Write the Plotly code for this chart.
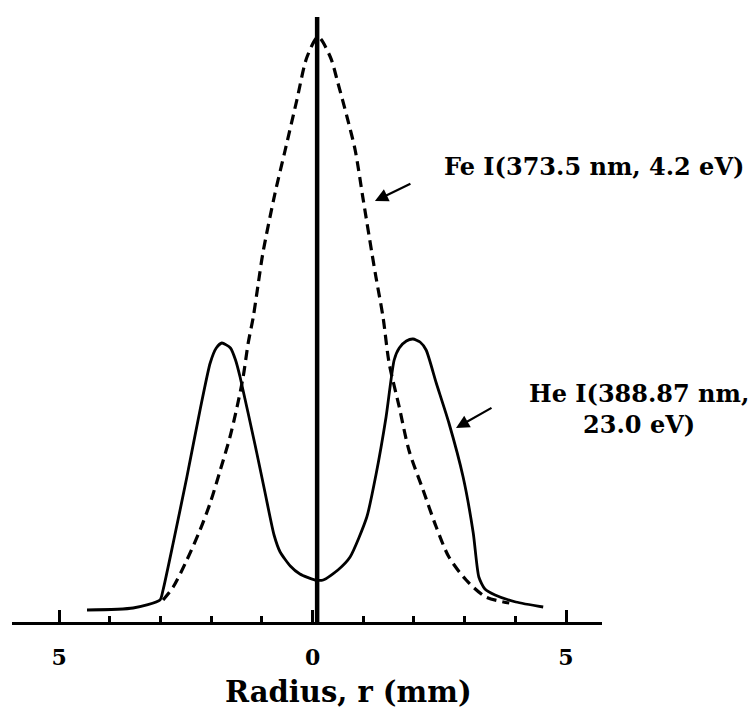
import plotly.graph_objects as go

# ---- data (radius in mm, intensity in arbitrary units) ----
he_r = [-4.45, -3.54, -3.01, -2.95, -2.75, -2.48, -2.22, -2.02, -1.90, -1.79, -1.62, -1.52,
        -1.43, -1.13, -0.94, -0.76, -0.64, -0.44, -0.25, 0.05, 0.21, 0.50, 0.74, 1.07, 1.25,
        1.45, 1.61, 1.71, 1.85, 1.98, 2.12, 2.24, 2.44, 2.69, 2.97, 3.17, 3.28, 3.40, 3.60,
        4.01, 4.55]
he_i = [12, 14, 22, 32, 79, 145, 212, 259, 274, 279, 274, 262,
        245, 176, 130, 87, 70, 56, 48, 42, 42, 52, 65, 105, 147,
        205, 262, 274, 281, 283, 280, 272, 239, 199, 145, 89, 45, 33, 27,
        20, 15]

fe_r = [-2.95, -2.75, -2.48, -2.22, -2.02, -1.82, -1.63, -1.49, -1.37, -1.27, -1.17, -1.07,
        -0.98, -0.74, -0.54, -0.31, -0.11, 0.11, 0.35, 0.50, 0.68, 0.84, 1.00, 1.17, 1.25,
        1.39, 1.51, 1.71, 1.90, 2.18, 2.44, 2.69, 3.03, 3.42, 3.88]
fe_i = [22, 35, 62, 92, 119, 152, 185, 215, 245, 279, 305, 339,
        369, 429, 472, 522, 565, 585, 565, 539, 505, 472, 422, 369, 345,
        305, 259, 215, 172, 132, 95, 65, 42, 25, 19]

center_r = [0.09, 0.09]
center_i = [0, 605]

tick_vals = [-5, 0, 5]
tick_text = ["5", "0", "5"]
minor_vals = [-4, -3, -2, -1, 1, 2, 3, 4]

fe_label = "Fe I(373.5 nm, 4.2 eV)"
he_label = "He I(388.87 nm,<br>23.0 eV)"
x_title = "Radius, r (mm)"

FONT = "DejaVu Serif"

fig = go.Figure()
fig.add_trace(go.Scatter(x=center_r, y=center_i, mode="lines",
                         line=dict(color="black", width=4.5), hoverinfo="skip"))
fig.add_trace(go.Scatter(x=fe_r, y=fe_i, mode="lines",
                         line=dict(color="black", width=3.2, dash="10px,6px",
                                   shape="spline", smoothing=0.8)))
fig.add_trace(go.Scatter(x=he_r, y=he_i, mode="lines",
                         line=dict(color="black", width=2.8, shape="spline", smoothing=0.6)))

# labels with arrows
fig.add_annotation(x=0.987, y=0.7435, xref="paper", yref="paper", text=fe_label, showarrow=False,
                   font=dict(family=FONT, size=24, color="black", weight="bold"),
                   xanchor="center", yanchor="middle")
fig.add_annotation(x=1.23, y=421, ax=1.96, ay=439, xref="x", yref="y", axref="x", ayref="y",
                   text="", showarrow=True, arrowhead=2, arrowsize=1.2, arrowwidth=2.2,
                   arrowcolor="black")
fig.add_annotation(x=1.063, y=0.348, xref="paper", yref="paper", text=he_label, showarrow=False,
                   font=dict(family=FONT, size=24, color="black", weight="bold"),
                   xanchor="center", yanchor="middle", align="center")
fig.add_annotation(x=2.83, y=194, ax=3.56, ay=215, xref="x", yref="y", axref="x", ayref="y",
                   text="", showarrow=True, arrowhead=2, arrowsize=1.2, arrowwidth=2.2,
                   arrowcolor="black")
fig.add_annotation(x=0.7, y=-0.114, xref="x", yref="paper", text=x_title, showarrow=False,
                   font=dict(family=FONT, size=29, color="black", weight="bold"),
                   xanchor="center", yanchor="middle")

fig.update_layout(
    width=753, height=715,
    margin=dict(l=12, r=151, t=10, b=93),
    paper_bgcolor="white", plot_bgcolor="white",
    showlegend=False,
    xaxis=dict(range=[-5.93, 5.71], showgrid=False, zeroline=False,
               showline=True, linewidth=3, linecolor="black",
               tickmode="array", tickvals=tick_vals, ticktext=tick_text,
               ticks="inside", ticklen=12, tickwidth=3, tickcolor="black",
               ticklabelstandoff=14,
               tickfont=dict(family=FONT, size=22, color="black", weight="bold"),
               minor=dict(tickmode="array", tickvals=minor_vals, ticks="inside",
                          ticklen=6, tickwidth=3, tickcolor="black", showgrid=False)),
    yaxis=dict(range=[0, 612], visible=False, showgrid=False, zeroline=False),
)

fig.write_html("out.html")
